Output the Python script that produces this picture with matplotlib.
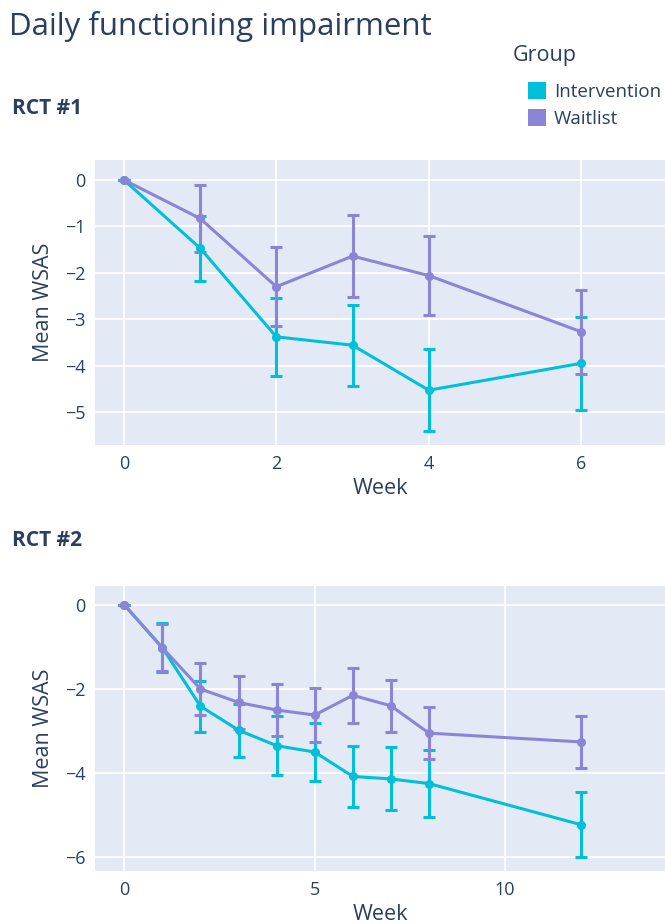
import matplotlib
matplotlib.use("Agg")
import matplotlib.pyplot as plt
from matplotlib.patches import Patch

# RCT #1
weeks1 = [0, 1, 2, 3, 4, 6]
interv1 = [0, -1.47, -3.38, -3.56, -4.53, -3.95]
interv1_err = [0, 0.70, 0.84, 0.87, 0.88, 1.00]
wait1 = [0, -0.83, -2.30, -1.64, -2.06, -3.27]
wait1_err = [0, 0.73, 0.85, 0.88, 0.85, 0.90]

# RCT #2
weeks2 = [0, 1, 2, 3, 4, 5, 6, 7, 8, 12]
interv2 = [0, -1.02, -2.41, -2.98, -3.35, -3.50, -4.08, -4.14, -4.25, -5.23]
interv2_err = [0, 0.58, 0.61, 0.63, 0.70, 0.70, 0.72, 0.75, 0.79, 0.77]
wait2 = [0, -1.02, -2.00, -2.32, -2.50, -2.62, -2.15, -2.40, -3.05, -3.26]
wait2_err = [0, 0.56, 0.61, 0.63, 0.61, 0.65, 0.65, 0.62, 0.61, 0.62]

groups = ["Intervention", "Waitlist"]
colors = ["#00c0d9", "#8b85d6"]
text_col = "#2a3f5f"

plt.rcParams['font.family'] = ['Open Sans', 'DejaVu Sans']

fig = plt.figure(figsize=(6.65, 9.24), dpi=100)


def panel(rect, weeks, series, xticks, yticks, xlim, ylim):
	ax = fig.add_axes(rect)
	ax.set_facecolor("#e3eaf5")
	for (vals, errs), c in zip(series, colors):
		ax.errorbar(weeks, vals, yerr=errs, color=c, lw=2.2, marker="o",
			markersize=5.5, capsize=4.3, capthick=2.2, elinewidth=2.2, zorder=3)
	ax.set_xticks(xticks)
	ax.set_yticks(yticks)
	ax.set_xlim(xlim)
	ax.set_ylim(ylim)
	ax.grid(True, color="white", lw=1.3, zorder=0)
	ax.set_axisbelow(True)
	for s in ax.spines.values():
		s.set_visible(False)
	ax.tick_params(length=0, labelsize=13, colors=text_col, pad=7)
	ax.set_xlabel("Week", fontsize=15.5, color=text_col, labelpad=4)
	ax.set_ylabel("Mean WSAS", fontsize=15.5, color=text_col, labelpad=8)
	return ax


ax1 = panel([95/665, 1-445/924, 570/665, 285/924], weeks1,
	[(interv1, interv1_err), (wait1, wait1_err)],
	[0, 2, 4, 6], [0, -1, -2, -3, -4, -5], (-0.38, 7.1), (-5.71, 0.43))
ax2 = panel([95/665, 1-871/924, 570/665, 285/924], weeks2,
	[(interv2, interv2_err), (wait2, wait2_err)],
	[0, 5, 10], [0, -2, -4, -6], (-0.77, 14.2), (-6.33, 0.45))

fig.text(9/665, 1-27/924, "Daily functioning impairment", fontsize=22.5,
	color=text_col, va="center", ha="left")
fig.text(12/665, 1-108/924, "RCT #1", fontsize=15, fontweight="bold",
	color=text_col, va="center", ha="left")
fig.text(12/665, 1-540/924, "RCT #2", fontsize=15, fontweight="bold",
	color=text_col, va="center", ha="left")

# legend title sits a bit left of the entries
fig.text(513/665, 1-55/924, "Group", fontsize=15.5, color=text_col,
	va="center", ha="left")
handles = [Patch(facecolor=c, edgecolor="none") for c in colors]
leg = fig.legend(handles, groups, loc="upper left",
	bbox_to_anchor=(511/665, 1-65/924), frameon=False, fontsize=13.5,
	handlelength=0.95, handleheight=1.0,
	handletextpad=0.45, labelspacing=0.45)
for t in leg.get_texts():
	t.set_color(text_col)

fig.savefig("out.png", dpi=100)
